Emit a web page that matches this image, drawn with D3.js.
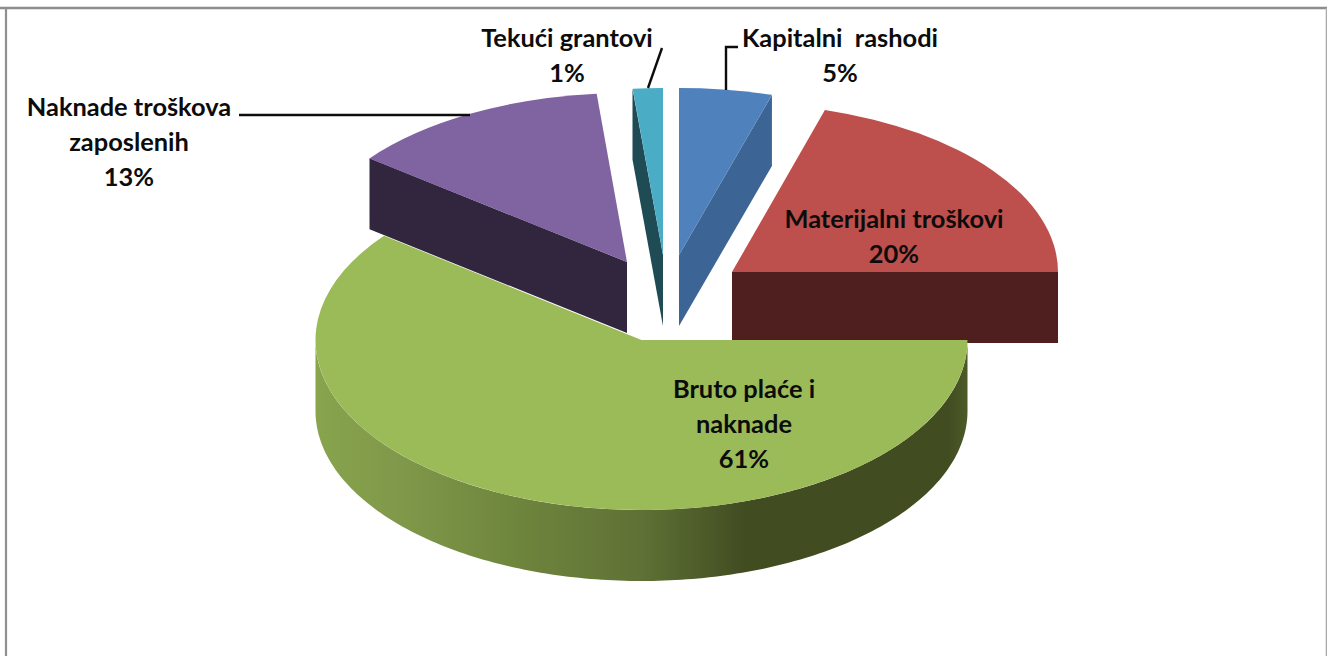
<!DOCTYPE html>
<html lang="hr">
<head>
<meta charset="utf-8">
<title>Rashodi</title>
<script src="https://cdn.jsdelivr.net/npm/d3@7/dist/d3.min.js"></script>
<style>
html,body{margin:0;padding:0;background:#fff;overflow:hidden}
svg{display:block}
text{font-family:Lato,"Open Sans",sans-serif;font-weight:700;font-size:25.4px;fill:#0c0c0c;text-anchor:middle;white-space:pre}
</style>
</head>
<body>
<svg id="chart" width="1327" height="656"></svg>
<script>
// Data
const categories = ["Kapitalni rashodi", "Materijalni troškovi", "Bruto plaće i naknade", "Naknade troškova zaposlenih", "Tekući grantovi"];
const shareValues = [4.6, 20.4, 60.5, 13.0, 1.49];
const labelLines = [["Kapitalni  rashodi"], ["Materijalni troškovi"], ["Bruto plaće i", "naknade"], ["Naknade troškova", "zaposlenih"], ["Tekući grantovi"]];

// Layout and style
const W = 1327, H = 656, RX = 326, DEPTH = 71, LINE = 35;
const apexX = [679, 732, 641.5, 627, 663];
const apexY = [255, 272, 340, 262, 255];
const radiusY = [167, 169, 170, 169, 167];
const labelX = [840, 894, 744, 129, 567];
const labelY = [47, 228, 398, 116, 47];
const topColors = ["#4f81bd", "#bd4f4c", "#9bbb59", "#8063a1", "#4aacc5"];
const wallColors = ["#3c6494", "#4f1f1f", "url(#greenWall)", "#32263f", "#1f4b55"];
const drawOrder = [3, 4, 0, 1, 2];
const leaders = [
  [[738, 47], [726, 47], [726, 90]],
  null,
  null,
  [[239, 115], [470, 115]],
  [[662, 48], [648, 88]]
];

const svg = d3.select("#chart");
const defs = svg.append("defs");
const grad = defs.append("linearGradient").attr("id", "greenWall")
  .attr("gradientUnits", "userSpaceOnUse").attr("x1", 316).attr("x2", 967).attr("y1", 0).attr("y2", 0);
[[0, "#88a44d"], [0.12, "#80994a"], [0.3, "#6f863d"], [0.5, "#5f7135"], [0.66, "#414c21"], [0.97, "#414c21"], [1, "#4c5a28"]]
  .forEach(([o, c]) => grad.append("stop").attr("offset", o).attr("stop-color", c));

svg.append("rect").attr("width", W).attr("height", H).attr("fill", "#fff");

const pie = d3.pie().sort(null).startAngle(0).endAngle(2 * Math.PI);
const arcs = pie(shareValues);
const total = d3.sum(shareValues);
const unitArc = d3.arc().innerRadius(0).outerRadius(1);
const line = d3.line();

function point(i, a, dz) {
  return [apexX[i] + RX * Math.sin(a), apexY[i] - radiusY[i] * Math.cos(a) + dz];
}
function edgeWall(i, a) {
  return line([[apexX[i], apexY[i]], point(i, a, 0), point(i, a, DEPTH), [apexX[i], apexY[i] + DEPTH]]) + "Z";
}

const gSlices = svg.append("g");
drawOrder.forEach(i => {
  const d = arcs[i], g = gSlices.append("g");
  const eps = 1e-6;
  // flat cut faces that look towards the viewer
  if (Math.sin(d.endAngle) > eps) g.append("path").attr("d", edgeWall(i, d.endAngle)).attr("fill", wallColors[i]);
  if (Math.sin(d.startAngle) < -eps) g.append("path").attr("d", edgeWall(i, d.startAngle)).attr("fill", wallColors[i]);
  // curved outer wall, front half only
  const a0 = Math.max(d.startAngle, Math.PI / 2), a1 = Math.min(d.endAngle, 3 * Math.PI / 2);
  if (a1 > a0) {
    const angles = d3.range(0, 181).map(k => a0 + (a1 - a0) * k / 180);
    const pts = angles.map(a => point(i, a, 0)).concat(angles.slice().reverse().map(a => point(i, a, DEPTH)));
    g.append("path").attr("d", line(pts) + "Z").attr("fill", wallColors[i]);
  }
  // top face: a unit pie slice squashed to the ellipse
  g.append("path").attr("d", unitArc(d))
    .attr("transform", `translate(${apexX[i]},${apexY[i]}) scale(${RX},${radiusY[i]})`)
    .attr("fill", topColors[i]);
});

// leader lines
leaders.forEach(pts => {
  if (pts) svg.append("path").attr("d", line(pts)).attr("fill", "none").attr("stroke", "#0c0c0c").attr("stroke-width", 2.4);
});

// labels
categories.forEach((c, i) => {
  const lines = labelLines[i].concat([Math.round(shareValues[i] / total * 100) + "%"]);
  const t = svg.append("text");
  lines.forEach((s, k) => t.append("tspan").attr("x", labelX[i]).attr("y", labelY[i] + k * LINE).text(s));
});

// frame
const frame = [
  [[0, 8], [W, 8], "#8c8c8c", 2.4],
  [[6, 8], [6, H], "#909090", 2.2],
  [[1326.4, 8], [1326.4, H], "#ababab", 1.4]
];
frame.forEach(([a, b, c, w]) => svg.append("path").attr("d", line([a, b])).attr("stroke", c).attr("stroke-width", w));
</script>
</body>
</html>
